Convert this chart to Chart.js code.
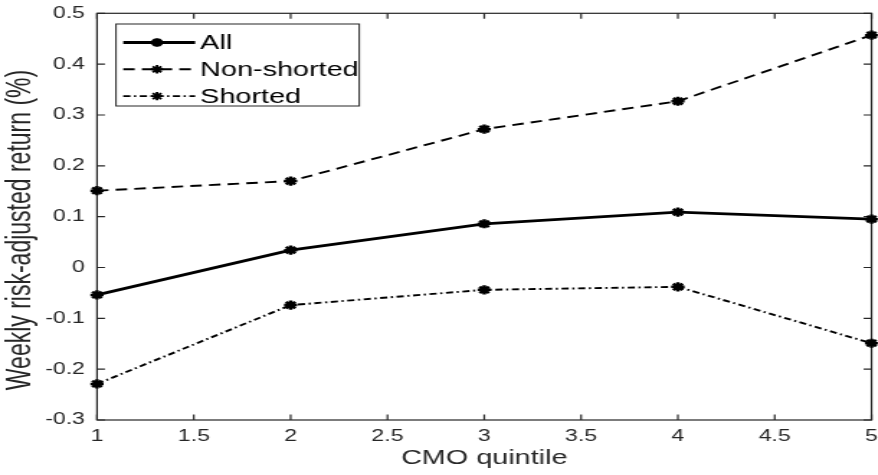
<!DOCTYPE html>
<html>
<head>
<meta charset="utf-8">
<script src="https://cdn.jsdelivr.net/npm/chart.js@4"></script>
<style>
  html, body { margin: 0; padding: 0; background: #fff; }
  #wrap { width: 878px; height: 475px; overflow: hidden; }
  #chart { display: block; width: 888px; height: 475px; }
</style>
</head>
<body>
<!-- drawn narrow, shown stretched like the original figure; the last bit is cut off by the wrapper -->
<div id="wrap">
  <canvas id="chart" width="617" height="475" style="width:888px;height:475px"></canvas>
</div>
<script>
const quintiles = [1, 2, 3, 4, 5];
const allReturns = [-0.054, 0.034, 0.086, 0.109, 0.095];
const nonShortedReturns = [0.151, 0.170, 0.272, 0.327, 0.457];
const shortedReturns = [-0.229, -0.074, -0.044, -0.038, -0.149];
const seriesNames = ['All', 'Non-shorted', 'Shorted'];

const FONT = '"Liberation Sans", Arial, Helvetica, sans-serif';
const AXIS_COLOR = '#262626';

const toPoints = vals => quintiles.map((q, i) => ({ x: q, y: vals[i] }));

const baseSet = {
  borderColor: '#000',
  backgroundColor: '#000',
  pointStyle: 'star',
  pointRadius: 4.6,
  pointBorderWidth: 2.5,
  pointBorderColor: '#000',
  tension: 0,
  clip: false
};

// box round the axes, with the ticks pointing inward on all four sides
const axesBox = {
  id: 'axesBox',
  beforeDatasetsDraw(chart) {
    const { ctx, chartArea: a, scales } = chart;
    const len = 5.5;
    ctx.save();
    ctx.strokeStyle = AXIS_COLOR;
    ctx.lineWidth = 1.2;
    ctx.strokeRect(a.left, a.top, a.right - a.left, a.bottom - a.top);
    ctx.beginPath();
    scales.x.ticks.forEach(t => {
      const px = scales.x.getPixelForValue(t.value);
      ctx.moveTo(px, a.bottom); ctx.lineTo(px, a.bottom - len);
      ctx.moveTo(px, a.top); ctx.lineTo(px, a.top + len);
    });
    scales.y.ticks.forEach(t => {
      const py = scales.y.getPixelForValue(t.value);
      ctx.moveTo(a.left, py); ctx.lineTo(a.left + len, py);
      ctx.moveTo(a.right, py); ctx.lineTo(a.right - len, py);
    });
    ctx.stroke();
    ctx.restore();
  }
};

// y label sits a bit below the middle of the axis in the original
const yLabel = {
  id: 'yLabel',
  afterDraw(chart) {
    const ctx = chart.ctx;
    ctx.save();
    ctx.translate(14.6, 230);
    ctx.rotate(-Math.PI / 2);
    ctx.fillStyle = AXIS_COLOR;
    ctx.font = '23px ' + FONT;
    ctx.textAlign = 'center';
    ctx.textBaseline = 'middle';
    ctx.fillText('Weekly risk-adjusted return (%)', 0, 0);
    ctx.restore();
  }
};

// MATLAB style legend inside the top-left corner
const boxLegend = {
  id: 'boxLegend',
  afterDraw(chart) {
    const { ctx, chartArea: a } = chart;
    const x0 = a.left + 13.2, y0 = a.top + 10.7, w = 169, h = 82;
    ctx.save();
    ctx.fillStyle = '#fff';
    ctx.fillRect(x0, y0, w, h);
    ctx.strokeStyle = AXIS_COLOR;
    ctx.lineWidth = 1;
    ctx.strokeRect(x0, y0, w, h);
    chart.data.datasets.forEach((ds, i) => {
      const y = y0 + 18.5 + i * 26.8;
      ctx.strokeStyle = '#000';
      ctx.lineWidth = ds.borderWidth;
      ctx.setLineDash(ds.borderDash || []);
      ctx.beginPath();
      ctx.moveTo(x0 + 5, y);
      ctx.lineTo(x0 + 55, y);
      ctx.stroke();
      ctx.setLineDash([]);
      Chart.helpers.drawPoint(ctx, {
        pointStyle: 'star', radius: 4.2, rotation: 0, borderWidth: 2.5
      }, x0 + 28.5, y);
      ctx.fillStyle = '#000';
      ctx.font = '20px ' + FONT;
      ctx.textBaseline = 'middle';
      ctx.textAlign = 'left';
      ctx.fillText(ds.label, x0 + 58.5, y + 1);
    });
    ctx.restore();
  }
};

const fmt = v => String(parseFloat(Number(v).toFixed(1)));

new Chart(document.getElementById('chart'), {
  type: 'line',
  data: {
    datasets: [
      Object.assign({}, baseSet, { label: seriesNames[0], data: toPoints(allReturns), borderWidth: 2.8 }),
      Object.assign({}, baseSet, { label: seriesNames[1], data: toPoints(nonShortedReturns), borderWidth: 1.9, borderDash: [8, 5] }),
      Object.assign({}, baseSet, { label: seriesNames[2], data: toPoints(shortedReturns), borderWidth: 1.9, borderDash: [5, 2.5, 1.5, 2.5] })
    ]
  },
  options: {
    responsive: false,
    devicePixelRatio: 1,
    animation: false,
    layout: { padding: { top: 13.3, right: 0, left: 0, bottom: 0 } },
    plugins: { legend: { display: false }, tooltip: { enabled: false } },
    scales: {
      x: {
        type: 'linear',
        min: 1,
        max: 5,
        grid: { display: false, drawTicks: false },
        border: { display: false },
        ticks: {
          stepSize: 0.5,
          padding: 7,
          maxRotation: 0,
          color: AXIS_COLOR,
          font: { family: FONT, size: 16 },
          callback: v => fmt(v)
        },
        title: {
          display: true,
          text: 'CMO quintile',
          color: AXIS_COLOR,
          font: { family: FONT, size: 20 },
          padding: { top: 0, bottom: 5 }
        },
        afterFit(scale) {
          scale.height = 55;
        }
      },
      y: {
        min: -0.3,
        max: 0.5,
        grid: { display: false, drawTicks: false },
        border: { display: false },
        ticks: {
          stepSize: 0.1,
          padding: 8.4,
          color: AXIS_COLOR,
          font: { family: FONT, size: 16 },
          callback: v => fmt(v)
        },
        title: { display: false },
        afterFit(scale) {
          scale.width = 67.4;
          scale.paddingTop = 0;
          scale.paddingBottom = 0;
        }
      }
    }
  },
  plugins: [axesBox, yLabel, boxLegend]
});
</script>
</body>
</html>
